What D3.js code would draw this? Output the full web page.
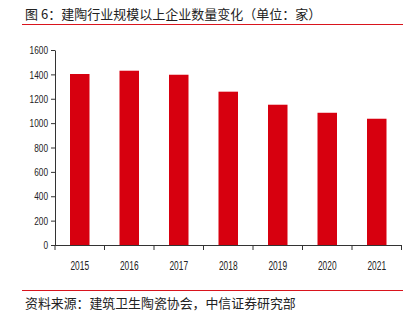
<!DOCTYPE html>
<html><head><meta charset="utf-8">
<script src="https://cdn.jsdelivr.net/npm/d3@7/dist/d3.min.js"></script>
<style>
html,body{margin:0;padding:0;background:#fff;}
svg{display:block;}
</style></head>
<body>
<svg id="c" width="410" height="322"></svg>
<script>
const titleText = "图 6：建陶行业规模以上企业数量变化（单位：家）";
const sourceText = "资料来源：建筑卫生陶瓷协会，中信证券研究部";
const years = ["2015","2016","2017","2018","2019","2020","2021"];
const values = [1403, 1430, 1397, 1258, 1151, 1085, 1036];
const yTicks = [0,200,400,600,800,1000,1200,1400,1600];

const svg = d3.select("#c");
const cjk = "'Noto Sans CJK SC','Noto Sans',sans-serif";
const narrow = "'Liberation Sans','Arial',sans-serif";

svg.append("text").attr("x",25).attr("y",19).attr("font-family",cjk)
  .attr("font-size",13).attr("fill","#222").text(titleText);
svg.append("line").attr("x1",22).attr("x2",403).attr("y1",24.5).attr("y2",24.5)
  .attr("stroke","#d9141d").attr("stroke-width",1);

const x0=55, x1=401.5, yTop=50, yBot=245;
const xb = d3.scaleBand().domain(years).range([x0,x1]);
const y = d3.scaleLinear().domain([0,1600]).range([yBot,yTop]);

svg.append("g").selectAll("rect").data(values).join("rect")
  .attr("x",(d,i)=>xb(years[i])+xb.bandwidth()/2-9.75)
  .attr("width",19.5)
  .attr("y",d=>y(d)).attr("height",d=>yBot-y(d))
  .attr("fill","#d7000f");

const yAxis = d3.axisLeft(y).tickValues(yTicks).tickFormat(d3.format("d")).tickSize(4).tickSizeOuter(0).tickPadding(3);
const gy = svg.append("g").attr("transform",`translate(${x0},0)`).call(yAxis);
gy.selectAll("text").attr("font-family",narrow).attr("font-size",11.5).attr("fill","#222")
  .attr("textLength",function(){return this.textContent.length*4.6;})
  .attr("lengthAdjust","spacingAndGlyphs");
gy.selectAll("line,path").attr("stroke","#333");

const gx = svg.append("g");
gx.append("line").attr("x1",x0).attr("x2",x1).attr("y1",yBot+0.5).attr("y2",yBot+0.5).attr("stroke","#333");
const bounds = years.map(d=>xb(d)).concat([x1]);
gx.selectAll("line.t").data(bounds).join("line").attr("class","t")
  .attr("x1",d=>d).attr("x2",d=>d).attr("y1",yBot).attr("y2",yBot+5).attr("stroke","#333");
gx.selectAll("text").data(years).join("text")
  .attr("x",d=>xb(d)+xb.bandwidth()/2).attr("y",yBot+24.5)
  .attr("text-anchor","middle").attr("font-family",narrow).attr("font-size",12).attr("fill","#222")
  .attr("textLength",18.6).attr("lengthAdjust","spacingAndGlyphs")
  .text(d=>d);

svg.append("line").attr("x1",22).attr("x2",403).attr("y1",290.5).attr("y2",290.5)
  .attr("stroke","#d9141d").attr("stroke-width",1);
svg.append("text").attr("x",25).attr("y",307.5).attr("font-family",cjk)
  .attr("font-size",12.9).attr("fill","#222").text(sourceText);
</script>
</body></html>
